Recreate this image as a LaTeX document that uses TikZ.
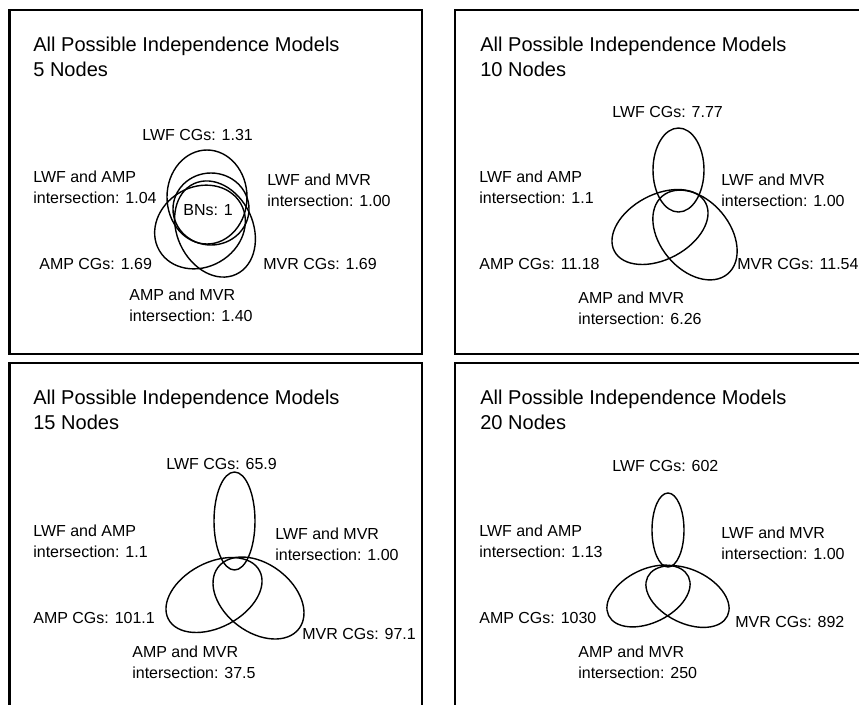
\documentclass[tikz,border=0pt]{standalone}
\usepackage{fontspec}
\setmainfont{Liberation Sans}
\tikzset{
  panel/.style={line width=1.5pt},
  venn/.style={line width=0.8pt},
  heading/.style={anchor=base west, inner sep=0pt, align=left, font=\fontsize{11.4}{13.7}\selectfont},
  lbl/.style={anchor=base west, inner sep=0pt, align=left, font=\fontsize{9.1}{11.4}\selectfont}
}
\begin{document}
\begin{tikzpicture}[x=0.02cm,y=-0.02cm]
                \useasboundingbox (0,0) rectangle (859,704);
                \clip (0,0) rectangle (859,704);
                % the four panels
                \draw[panel] (9.5,10) rectangle (422,354);
                \draw[panel] (455,10) rectangle (880,354);
                \draw[panel] (9.5,363) rectangle (422,720);
                \draw[panel] (455,363) rectangle (880,720);
                % 5 nodes (base of a two line node = its last line)
                \node[heading] (t5) at (33,76) {All Possible Independence Models\\5 Nodes};
                \draw[venn] (207,197) ellipse [x radius=40, y radius=47];
                \draw[venn] (211,209) ellipse [x radius=38, y radius=36];
                \draw[venn, shift={(200,227)}, rotate=30] (0,0) ellipse [x radius=47, y radius=40];
                \draw[venn, shift={(215,229)}, rotate=25] (0,0) ellipse [x radius=38, y radius=50];
                \node[lbl] (lwf5) at (142,140) {LWF CGs: 1.31};
                \node[lbl] (la5) at (33,203) {LWF and AMP\\intersection: 1.04};
                \node[lbl] (lm5) at (267,206) {LWF and MVR\\intersection: 1.00};
                \node[lbl] (bn5) at (183,215) {BNs: 1};
                \node[lbl] (amp5) at (39,269) {AMP CGs: 1.69};
                \node[lbl] (mvr5) at (263,269) {MVR CGs: 1.69};
                \node[lbl] (am5) at (129,321) {AMP and MVR\\intersection: 1.40};
                % 10 nodes
                \node[heading] (t10) at (480,76) {All Possible Independence Models\\10 Nodes};
                \draw[venn] (678.5,170) ellipse [x radius=25.5, y radius=42];
                \draw[venn, shift={(660,227)}, rotate=28] (0,0) ellipse [x radius=51.6, y radius=32.4];
                \draw[venn, shift={(695,235)}, rotate=-50] (0,0) ellipse [x radius=50.8, y radius=34.8];
                \node[lbl] (lwf10) at (612,117) {LWF CGs: 7.77};
                \node[lbl] (la10) at (479,203) {LWF and AMP\\intersection: 1.1};
                \node[lbl] (lm10) at (721,206) {LWF and MVR\\intersection: 1.00};
                \node[lbl] (amp10) at (479,269) {AMP CGs: 11.18};
                \node[lbl] (mvr10) at (737,269) {MVR CGs: 11.54};
                \node[lbl] (am10) at (578,324) {AMP and MVR\\intersection: 6.26};
                % 15 nodes
                \node[heading] (t15) at (33,429) {All Possible Independence Models\\15 Nodes};
                \draw[venn] (234.5,521) ellipse [x radius=20.5, y radius=49];
                \draw[venn, shift={(214,595)}, rotate=28] (0,0) ellipse [x radius=51.6, y radius=32.4];
                \draw[venn, shift={(258.5,598)}, rotate=-37] (0,0) ellipse [x radius=50.8, y radius=34.2];
                \node[lbl] (lwf15) at (166,469) {LWF CGs: 65.9};
                \node[lbl] (la15) at (33,557) {LWF and AMP\\intersection: 1.1};
                \node[lbl] (lm15) at (275,560) {LWF and MVR\\intersection: 1.00};
                \node[lbl] (amp15) at (33,623) {AMP CGs: 101.1};
                \node[lbl] (mvr15) at (302,639) {MVR CGs: 97.1};
                \node[lbl] (am15) at (132,678) {AMP and MVR\\intersection: 37.5};
                % 20 nodes
                \node[heading] (t20) at (480,429) {All Possible Independence Models\\20 Nodes};
                \draw[venn] (668,530) ellipse [x radius=16, y radius=37];
                \draw[venn, shift={(648.5,596)}, rotate=26] (0,0) ellipse [x radius=44.4, y radius=26.7];
                \draw[venn, shift={(687.5,596.5)}, rotate=-26] (0,0) ellipse [x radius=44.4, y radius=26.7];
                \node[lbl] (lwf20) at (612,471) {LWF CGs: 602};
                \node[lbl] (la20) at (479,557) {LWF and AMP\\intersection: 1.13};
                \node[lbl] (lm20) at (721,559) {LWF and MVR\\intersection: 1.00};
                \node[lbl] (amp20) at (479,623) {AMP CGs: 1030};
                \node[lbl] (mvr20) at (735,627) {MVR CGs: 892};
                \node[lbl] (am20) at (578,678) {AMP and MVR\\intersection: 250};
\end{tikzpicture}
\end{document}
